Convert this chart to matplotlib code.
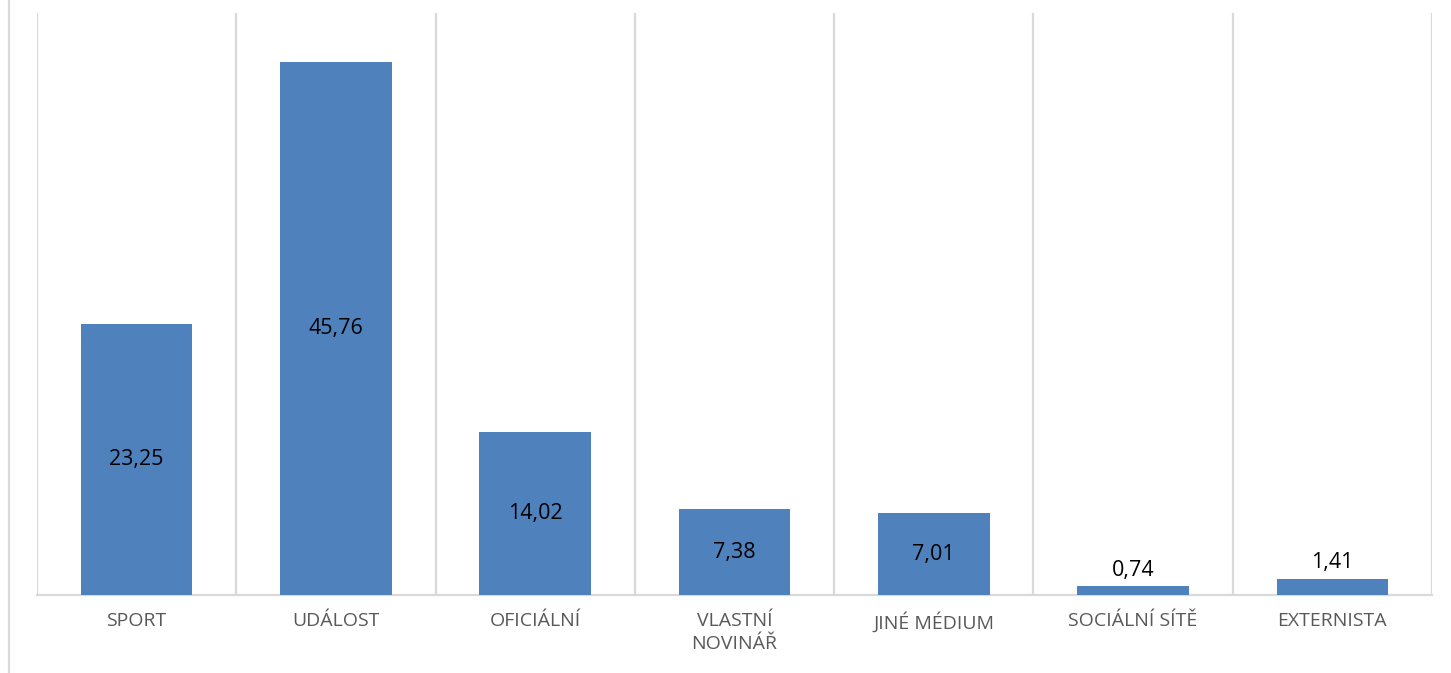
"""
Bar chart: share of news sources (Czech categories), values in percent.
"""
import matplotlib.pyplot as plt
import numpy as np
from matplotlib.lines import Line2D

categories = ["SPORT", "UDÁLOST", "OFICIÁLNÍ", "VLASTNÍ\nNOVINÁŘ",
              "JINÉ MÉDIUM", "SOCIÁLNÍ SÍTĚ", "EXTERNISTA"]
values = [23.25, 45.76, 14.02, 7.38, 7.01, 0.74, 1.41]
value_labels = ["23,25", "45,76", "14,02", "7,38", "7,01", "0,74", "1,41"]

plt.rcParams["font.family"] = ["Open Sans", "DejaVu Sans"]

fig = plt.figure(figsize=(14.51, 6.73), dpi=100)
ax = fig.add_axes([37 / 1451, 78 / 673, (1432 - 37) / 1451, (595 - 13) / 673])

grid_col = "#d9d9d9"
x = np.arange(len(categories))
bars = ax.bar(x, values, width=0.56, color="#4f81bd", zorder=3)

ax.set_xlim(-0.5, len(categories) - 0.5)
ax.set_ylim(0, 50)

# vertical separators between categories
ax.set_xticks(np.arange(-0.5, len(categories)), minor=True)
ax.grid(True, which="minor", axis="x", color=grid_col, linewidth=1.6, zorder=0)
ax.tick_params(which="minor", length=0)

ax.set_xticks(x)
ax.set_xticklabels(categories, fontsize=14, color="#595959", linespacing=1.35)
ax.tick_params(axis="x", length=0, pad=12)
ax.set_yticks([])

for s in ["top", "right", "left"]:
    ax.spines[s].set_visible(False)
ax.spines["bottom"].set_color(grid_col)
ax.spines["bottom"].set_linewidth(1.6)

# data labels: centered in bar, or above it if the bar is too short
for b, v, lab in zip(bars, values, value_labels):
    cx = b.get_x() + b.get_width() / 2
    if v > 5:
        ax.text(cx, v / 2, lab, ha="center", va="center", fontsize=15.5,
                color="black", zorder=4)
    else:
        ax.annotate(lab, (cx, v), xytext=(0, 4), textcoords="offset points",
                    ha="center", va="bottom", fontsize=15.5, color="black")

# outer chart frame line on the left
fig.add_artist(Line2D([8.5 / 1451, 8.5 / 1451], [0, 1], color=grid_col,
                      linewidth=1.6, transform=fig.transFigure))

fig.savefig("out.png", dpi=100)
